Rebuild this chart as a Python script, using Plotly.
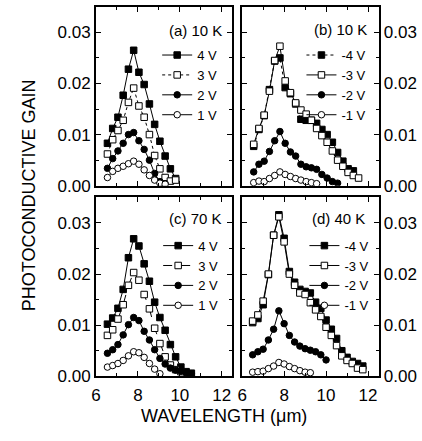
import plotly.graph_objects as go

# ---------------- data ----------------
a_x = [6.55, 6.8, 7.05, 7.3, 7.55, 7.8, 8.05, 8.3, 8.55, 8.8, 9.05, 9.3, 9.55, 9.8]
a_4v = [0.0083, 0.0112, 0.0134, 0.0177, 0.0228, 0.0265, 0.0222, 0.0198, 0.0160, 0.0120, 0.0087, 0.0058, 0.0033, 0.0014]
a_3v = [0.0062, 0.0090, 0.0108, 0.0128, 0.0163, 0.0191, 0.0156, 0.0134, 0.0100, 0.0059, 0.0033, 0.0016, 0.0009, 0.0011]
a_2v = [0.0034, 0.0053, 0.0068, 0.0083, 0.0100, 0.0104, 0.0088, 0.0071, 0.0050, 0.0024, 0.0008, 0.0004]
a_1v = [0.0016, 0.0028, 0.0034, 0.0038, 0.0043, 0.0048, 0.0042, 0.0031, 0.0020, 0.0011, 0.0005, 0.0003]

b_x = [6.55, 6.8, 7.05, 7.3, 7.55, 7.8, 8.05, 8.3, 8.55, 8.8, 9.05, 9.3, 9.55, 9.8, 10.05,
       10.3, 10.55, 10.8, 11.05, 11.3, 11.55]
b_4v = [0.0077, 0.0110, 0.0137, 0.0188, 0.0244, 0.0250, 0.0192, 0.0180, 0.0160, 0.0130, 0.0128,
        0.0128, 0.0122, 0.0110, 0.0100, 0.0085, 0.0065, 0.0048, 0.0033, 0.0029]
b_3v = [0.0081, 0.0112, 0.0138, 0.0185, 0.0245, 0.0273, 0.0205, 0.0182, 0.0162, 0.0148, 0.0140,
        0.0128, 0.0112, 0.0098, 0.0085, 0.0068, 0.0050, 0.0038, 0.0026, 0.0020, 0.0015]
b_2v = [0.0027, 0.0042, 0.0048, 0.0067, 0.0088, 0.0106, 0.0083, 0.0066, 0.0058, 0.0042, 0.0037,
        0.0035, 0.0032, 0.0022, 0.0015, 0.0008, 0.0005]
b_1v = [0.0006, 0.0009, 0.0008, 0.0014, 0.0020, 0.0027, 0.0022, 0.0018, 0.0014, 0.0011, 0.0008,
        0.0006, 0.0004]

c_x = [6.55, 6.8, 7.05, 7.3, 7.55, 7.8, 8.05, 8.3, 8.55, 8.8, 9.05, 9.3, 9.55, 9.8, 10.05, 10.3, 10.55]
c_4v = [0.0102, 0.0114, 0.0133, 0.0170, 0.0232, 0.0269, 0.0255, 0.0220, 0.0186, 0.0145, 0.0115,
        0.0090, 0.0062, 0.0038, 0.0018, 0.0009, 0.0006]
c_3v = [0.0080, 0.0091, 0.0112, 0.0140, 0.0178, 0.0203, 0.0188, 0.0160, 0.0132, 0.0094, 0.0064,
        0.0038, 0.0022, 0.0013, 0.0009]
c_2v = [0.0045, 0.0052, 0.0062, 0.0081, 0.0101, 0.0115, 0.0109, 0.0088, 0.0071, 0.0052, 0.0035,
        0.0024, 0.0016, 0.0012, 0.0010, 0.0007, 0.0005]
c_1v = [0.0018, 0.0021, 0.0025, 0.0031, 0.0040, 0.0048, 0.0046, 0.0037, 0.0025, 0.0014, 0.0005]

d_x = [6.5, 6.75, 7.0, 7.25, 7.5, 7.75, 8.0, 8.25, 8.5, 8.75, 9.0, 9.25, 9.5, 9.75, 10.0,
       10.25, 10.5, 10.75, 11.0, 11.25, 11.5, 11.75]
d_4v = [0.0105, 0.0113, 0.0140, 0.0199, 0.0276, 0.0316, 0.0270, 0.0205, 0.0184, 0.0170, 0.0166,
        0.0163, 0.0145, 0.0133, 0.0110, 0.0092, 0.0074, 0.0050, 0.0037, 0.0029, 0.0025, 0.0020]
d_3v = [0.0108, 0.0120, 0.0147, 0.0200, 0.0276, 0.0312, 0.0263, 0.0200, 0.0178, 0.0163, 0.0160,
        0.0144, 0.0130, 0.0117, 0.0096, 0.0080, 0.0060, 0.0040, 0.0031, 0.0025, 0.0016, 0.0013]
d_2v = [0.0042, 0.0048, 0.0053, 0.0071, 0.0092, 0.0128, 0.0103, 0.0080, 0.0067, 0.0059, 0.0054,
        0.0051, 0.0048, 0.0042, 0.0032]
d_1v = [0.0008, 0.0009, 0.0010, 0.0015, 0.0020, 0.0027, 0.0024, 0.0019, 0.0015, 0.0011, 0.0008, 0.0007]

panel_titles = ["(a) 10 K", "(b) 10 K", "(c) 70 K", "(d) 40 K"]
pos_names = ["4 V", "3 V", "2 V", "1 V"]
neg_names = ["-4 V", "-3 V", "-2 V", "-1 V"]
x_ticks = [6, 8, 10, 12]
y_ticks = [0.00, 0.01, 0.02, 0.03]

# ---------------- layout geometry ----------------
W, H = 422, 441
def px_x(p): return p / W
def px_y(p): return 1 - p / H

xdom_l = [px_x(92), px_x(230)]
xdom_r = [px_x(240), px_x(378)]
ydom_t = [px_y(190), px_y(7)]
ydom_b = [px_y(385), px_y(202)]

FONT = "Liberation Sans, Arial, sans-serif"
BLACK = "#000000"

symbols = ["square", "square", "circle", "circle"]
fills = [BLACK, "white", BLACK, "white"]

panels = [
    dict(x=a_x, ys=[a_4v, a_3v, a_2v, a_1v], names=pos_names, dashes=["solid", "dot", "solid", "solid"]),
    dict(x=b_x, ys=[b_4v, b_3v, b_2v, b_1v], names=neg_names, dashes=["dot", "solid", "solid", "solid"]),
    dict(x=c_x, ys=[c_4v, c_3v, c_2v, c_1v], names=pos_names, dashes=["solid", "dash", "solid", "solid"]),
    dict(x=d_x, ys=[d_4v, d_3v, d_2v, d_1v], names=neg_names, dashes=["solid", "solid", "solid", "solid"]),
]

fig = go.Figure()
legend_names = ["legend", "legend2", "legend3", "legend4"]
for i, p in enumerate(panels):
    xa = "x" if i == 0 else f"x{i+1}"
    ya = "y" if i == 0 else f"y{i+1}"
    for j in range(4):
        yv = p["ys"][j]
        fig.add_trace(go.Scatter(
            x=p["x"][:len(yv)], y=yv, name=p["names"][j],
            xaxis=xa, yaxis=ya, mode="lines+markers",
            line=dict(color=BLACK, width=1, dash=p["dashes"][j]),
            marker=dict(symbol=symbols[j], size=6.5, color=fills[j],
                        line=dict(color=BLACK, width=1)),
            legend=legend_names[i],
        ))

common_axis = dict(
    showline=True, linecolor=BLACK, linewidth=1.8, mirror="allticks",
    ticks="inside", ticklen=5, tickwidth=1.2, tickcolor=BLACK,
    showgrid=False, zeroline=False,
    tickfont=dict(family=FONT, size=17, color=BLACK),
)
xcommon = dict(common_axis, range=[6, 12.5], tickvals=x_ticks, ticklabelstandoff=2,
               minor=dict(dtick=1, ticks="inside", ticklen=3, tickwidth=1.2, tickcolor=BLACK, showgrid=False))
ycommon = dict(common_axis, range=[0, 0.035], tickvals=y_ticks, tickformat=".2f",
               minor=dict(dtick=0.005, ticks="inside", ticklen=3, tickwidth=1.2, tickcolor=BLACK, showgrid=False))

layout = dict(
    width=W, height=H, margin=dict(l=0, r=0, t=0, b=0),
    paper_bgcolor="white", plot_bgcolor="white",
    font=dict(family=FONT, color=BLACK),
    xaxis=dict(xcommon, domain=xdom_l, anchor="y", showticklabels=False),
    yaxis=dict(ycommon, domain=ydom_t, anchor="x", side="left"),
    xaxis2=dict(xcommon, domain=xdom_r, anchor="y2", showticklabels=False),
    yaxis2=dict(ycommon, domain=ydom_t, anchor="x2", side="right"),
    xaxis3=dict(xcommon, domain=xdom_l, anchor="y3"),
    yaxis3=dict(ycommon, domain=ydom_b, anchor="x3", side="left"),
    xaxis4=dict(xcommon, domain=xdom_r, anchor="y4"),
    yaxis4=dict(ycommon, domain=ydom_b, anchor="x4", side="right"),
)

leg_pos = [(154, 41), (300, 41), (155, 236), (303, 236)]
for name, (lx, ly) in zip(legend_names, leg_pos):
    layout[name] = dict(x=px_x(lx), y=px_y(ly), xanchor="left", yanchor="top",
                        bgcolor="rgba(0,0,0,0)", borderwidth=0,
                        font=dict(family=FONT, size=13, color=BLACK),
                        tracegroupgap=0)

fig.update_layout(**layout)

# panel titles
title_pos = [(222, 31), (368, 30), (222, 224), (366, 224)]
for t, (tx, ty) in zip(panel_titles, title_pos):
    fig.add_annotation(text=t, x=px_x(tx), y=px_y(ty), xref="paper", yref="paper",
                       xanchor="right", yanchor="middle", showarrow=False,
                       font=dict(family=FONT, size=15, color=BLACK))

# axis titles
fig.add_annotation(text="WAVELENGTH (\u03bcm)", x=px_x(222), y=px_y(426), xref="paper", yref="paper",
                   xanchor="center", yanchor="middle", showarrow=False,
                   font=dict(family=FONT, size=18, color=BLACK))
fig.add_annotation(text="PHOTOCONDUCTIVE GAIN", x=px_x(25), y=px_y(200), xref="paper", yref="paper",
                   xanchor="center", yanchor="middle", showarrow=False, textangle=-90,
                   font=dict(family=FONT, size=18, color=BLACK))

fig.write_html(
    "out.html",
    config={"displayModeBar": False},
    post_script=(
        "var s=document.documentElement.style, b=document.body.style;"
        "s.margin='0';s.padding='0';s.height='441px';s.overflow='hidden';"
        "b.margin='0';b.padding='0';b.height='441px';b.overflow='hidden';"
        "b.fontSize='0';b.lineHeight='0';"
    ),
)
